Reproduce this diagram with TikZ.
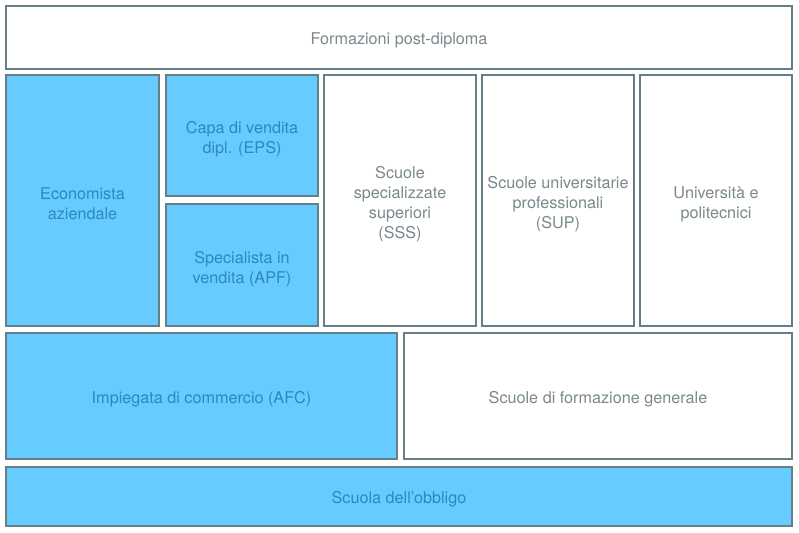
\documentclass[tikz,border=0pt]{standalone}
\usepackage{fontspec}
\setmainfont{TeX Gyre Heros}
\definecolor{fillblue}{HTML}{66CCFF}
\definecolor{edgegray}{HTML}{667F86}
\definecolor{bluetext}{HTML}{2B8AB8}
\definecolor{graytext}{HTML}{7A898D}
\begin{document}
\begin{tikzpicture}[x=1pt,y=-1pt,
  box/.style={draw=edgegray, line width=2pt, anchor=north west, inner sep=0pt, outer sep=0pt},
  bluebox/.style={box, fill=fillblue},
  whitebox/.style={box, fill=white},
  lbl/.style={inner sep=0pt, align=center, font=\fontsize{16.2}{19.8}\selectfont},
  bluelbl/.style={lbl, text=bluetext},
  graylbl/.style={lbl, text=graytext}]
\fill[white] (0,0) rectangle (799,532);
\useasboundingbox (0,0) rectangle (799,532);
\node[whitebox, minimum width=786pt, minimum height=63pt] (top) at (6,6) {};
\node[graylbl] (toptext) at ([yshift=-3pt]top.center) {Formazioni post-diploma};
\node[bluebox, minimum width=153pt, minimum height=251pt] (eco) at (6,75) {};
\node[bluelbl] (ecotext) at ([yshift=-3pt]eco.center) {Economista\\aziendale};
\node[bluebox, minimum width=152pt, minimum height=121pt] (capa) at (166,75) {};
\node[bluelbl] (capatext) at ([yshift=-4pt]capa.center) {Capa di vendita\\dipl. (EPS)};
\node[bluebox, minimum width=152pt, minimum height=122pt] (spec) at (166,204) {};
\node[bluelbl] (spectext) at ([yshift=-4pt]spec.center) {Specialista in\\vendita (APF)};
\node[whitebox, minimum width=152pt, minimum height=251pt] (sss) at (324,75) {};
\node[graylbl] (ssstext) at ([yshift=-3.5pt]sss.center) {Scuole\\specializzate\\superiori\\(SSS)};
\node[whitebox, minimum width=152pt, minimum height=251pt] (sup) at (482,75) {};
\node[graylbl] (suptext) at ([yshift=-3.5pt]sup.center) {Scuole universitarie\\professionali\\(SUP)};
\node[whitebox, minimum width=152pt, minimum height=251pt] (uni) at (640,75) {};
\node[graylbl] (unitext) at ([yshift=-4pt]uni.center) {Università e\\politecnici};
\node[bluebox, minimum width=391pt, minimum height=126pt] (imp) at (6,333) {};
\node[bluelbl] (imptext) at ([yshift=-3pt]imp.center) {Impiegata di commercio (AFC)};
\node[whitebox, minimum width=388pt, minimum height=126pt] (sfg) at (404,333) {};
\node[graylbl] (sfgtext) at ([yshift=-3pt]sfg.center) {Scuole di formazione generale};
\node[bluebox, minimum width=786pt, minimum height=59pt] (obb) at (6,467) {};
\node[bluelbl] (obbtext) at ([yshift=-2.5pt]obb.center) {Scuola dell’obbligo};
\end{tikzpicture}
\end{document}
